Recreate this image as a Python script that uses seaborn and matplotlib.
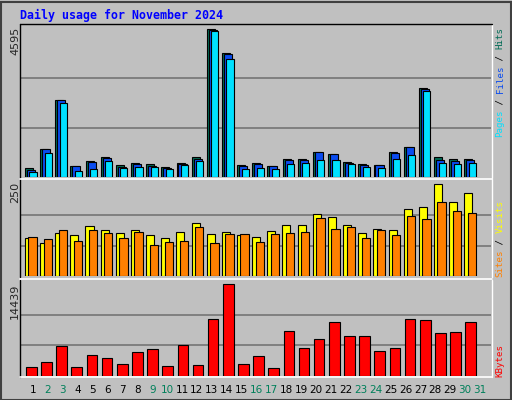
import numpy as np
import matplotlib
matplotlib.use("Agg")
import matplotlib.pyplot as plt
import seaborn as sns
from matplotlib.patches import Rectangle

days = list(range(1, 31))
day_labels = [str(d) for d in range(1, 32)]
weekend_days = [2, 3, 9, 10, 16, 17, 23, 24, 30, 31]

hits = [260, 854, 2386, 333, 479, 615, 354, 417, 385, 292, 417, 615, 4595, 3855, 354,
        417, 323, 542, 542, 761, 698, 448, 385, 354, 761, 917, 2761, 615, 542, 542]
files = [219, 854, 2386, 333, 448, 583, 313, 385, 344, 271, 385, 542, 4574, 3824, 323,
         385, 323, 510, 510, 761, 698, 417, 354, 354, 729, 917, 2730, 510, 479, 510]
pages = [156, 729, 2292, 167, 229, 479, 260, 292, 292, 229, 354, 479, 4543, 3668, 229,
         260, 229, 385, 417, 510, 510, 385, 292, 260, 542, 667, 2667, 417, 385, 417]
visits = [103, 90, 117, 111, 136, 125, 117, 125, 111, 103, 120, 144, 114, 120, 111,
          106, 122, 139, 139, 169, 160, 139, 117, 128, 125, 182, 188, 250, 201, 226]
sites = [106, 101, 125, 95, 125, 117, 103, 120, 84, 92, 95, 133, 90, 114, 114,
         92, 114, 117, 120, 158, 128, 133, 103, 125, 111, 163, 155, 201, 177, 171]
kbytes = [1318, 2108, 4638, 1318, 3215, 2740, 1792, 3689, 4164, 1476, 4796, 1634, 8907, 14439, 1792,
          3057, 1159, 7010, 4322, 5745, 8432, 6219, 6219, 3847, 4322, 8907, 8749, 6693, 6851, 8432]

BG = "#c0c0c0"
W, H = 512, 400
sns.set_style("white")
plt.rcParams["font.family"] = ["DejaVu Sans Mono", "DejaVu Sans"]

fig = plt.figure(figsize=(W / 100, H / 100), dpi=100, facecolor=BG)


def px_axes(top, bottom, left=21, right=491):
    return fig.add_axes([left / W, 1 - bottom / H, (right - left) / W, (bottom - top) / H])


def bars(ax, values, offset, width, color):
    sns.barplot(x=np.array(days) + offset, y=values, native_scale=True, width=width,
                color=color, edgecolor="black", linewidth=0.8, saturation=1, ax=ax)


def setup(ax, top_value, ymax):
    ax.set_facecolor(BG)
    ax.set_xlim(0.21, 31.23)
    ax.set_ylim(0, ymax)
    for f in (1 / 3, 2 / 3):
        ax.axhline(top_value * f, color="#808080", lw=1.2, zorder=0)
    ax.set_xticks([])
    ax.set_yticks([])
    ax.set_xlabel("")
    ax.set_ylabel("")
    for s in ax.spines.values():
        s.set_visible(False)


ax1 = px_axes(25, 176.7)
ax2 = px_axes(180, 276.3)
ax3 = px_axes(280.7, 375.7)

setup(ax1, 4595, 4729)
bars(ax1, hits, -0.26, 0.53, "#006b55")
bars(ax1, files, -0.13, 0.53, "#0a4cf0")
bars(ax1, pages, 0.0, 0.47, "#00e0ff")
setup(ax1, 4595, 4729)

setup(ax2, 250, 261)
bars(ax2, visits, -0.27, 0.53, "#ffff00")
bars(ax2, sites, -0.03, 0.55, "#ff8000")
setup(ax2, 250, 261)

setup(ax3, 14439, 15018)
bars(ax3, kbytes, -0.11, 0.7, "#ff0000")
setup(ax3, 14439, 15018)

# frames
for y0, y1 in [(24, 177.5), (179, 277), (279.5, 376.5)]:
    fig.add_artist(plt.Line2D([20 / W, 20 / W], [1 - y0 / H, 1 - y1 / H], color="black", lw=1))
    fig.add_artist(plt.Line2D([492 / W, 492 / W], [1 - y0 / H, 1 - y1 / H], color="white", lw=1))
fig.add_artist(plt.Line2D([20 / W, 492 / W], [1 - 24 / H] * 2, color="black", lw=1))
for y in (178.5, 278.5):
    fig.add_artist(plt.Line2D([20 / W, 492 / W], [1 - y / H] * 2, color="white", lw=1.2))
fig.add_artist(plt.Line2D([20 / W, 492 / W], [1 - 377 / H] * 2, color="white", lw=1.2))
fig.add_artist(Rectangle((0.5 / W, 0.5 / H), (W - 2) / W, (H - 2) / H, transform=fig.transFigure,
                         fill=False, edgecolor="#404040", lw=1.5))

fig.text(20 / W, 1 - 15 / H, "Daily usage for November 2024", color="#0000ff",
         fontsize=8.4, fontweight="bold", va="center", ha="left")

# left max labels
for label, ytop in [("4595", 27), ("250", 182), ("14439", 284)]:
    fig.text(15 / W, 1 - ytop / H, label, rotation=90, fontsize=8, va="top", ha="center",
             family="DejaVu Sans")


# right legends, rotated text built from bottom up
def vertical_legend(parts, ybottom):
    step = 5.5
    y = ybottom
    for text, color in parts:
        fig.text(500 / W, 1 - y / H, text, rotation=90, color=color, fontsize=6.6,
                 va="center", ha="left", rotation_mode="anchor")
        y -= step * len(text)


vertical_legend([("Pages", "#00e0ff"), (" / ", "black"), ("Files", "#0a4cf0"),
                 (" / ", "black"), ("Hits", "#006b55")], 137)
vertical_legend([("Sites", "#ff8000"), (" / ", "black"), ("Visits", "#ffff00")], 277)
vertical_legend([("KBytes", "#ff0000")], 377)

for i, lab in enumerate(day_labels):
    d = i + 1
    xpx = 33 + (d - 1) * 14.9
    fig.text(xpx / W, 1 - 390 / H, lab, ha="center", va="center", fontsize=7.5,
             family="DejaVu Sans", color="#00805a" if d in weekend_days else "black")

fig.savefig("out.png", dpi=100, facecolor=BG)
